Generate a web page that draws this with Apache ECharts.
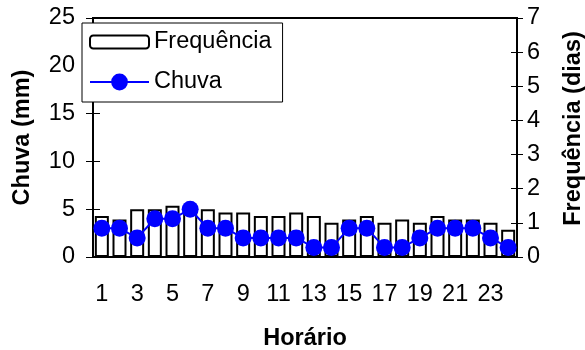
<!DOCTYPE html>
<html><head><meta charset="utf-8">
<script src="https://cdn.jsdelivr.net/npm/echarts@6/dist/echarts.min.js"></script>
<style>html,body{margin:0;padding:0;background:#fff}#c{width:585px;height:350px}</style>
</head><body><div id="c"></div>
<script>
var hours = ['1','2','3','4','5','6','7','8','9','10','11','12','13','14','15','16','17','18','19','20','21','22','23','24'];
var frequencia = [1.2,1.1,1.4,1.4,1.5,1.5,1.4,1.3,1.3,1.2,1.2,1.3,1.2,1.0,1.1,1.2,1.0,1.1,1.0,1.2,1.1,1.1,1.0,0.8];
var chuva = [3,3,2,4,4,5,3,3,2,2,2,2,1,1,3,3,1,1,2,3,3,3,2,1];
var F = 'Liberation Sans, Arial, sans-serif';
var FS = 23.5;
var chart = echarts.init(document.getElementById('c'), null, {renderer:'canvas'});
chart.setOption({
  animation:false,
  backgroundColor:'#fff',
  grid:{left:93,right:68,top:18,bottom:93,containLabel:false,outerBoundsMode:'none',
        show:true,borderColor:'#000',borderWidth:2,backgroundColor:'transparent'},
  legend:[{
    orient:'vertical',left:82,top:23,
    padding:[7,11,48,7],itemWidth:59,itemHeight:13,
    backgroundColor:'#fff',borderColor:'#000',borderWidth:1,
    textStyle:{fontFamily:F,fontSize:FS,color:'#000'},
    data:['Frequência'],z:10
  },{
    orient:'vertical',left:89,top:70,
    padding:0,itemWidth:59,itemHeight:21,
    backgroundColor:'transparent',borderWidth:0,
    textStyle:{fontFamily:F,fontSize:FS,color:'#000'},
    data:['Chuva'],z:11
  }],
  xAxis:{
    type:'category',data:hours,boundaryGap:true,
    name:'Horário',nameLocation:'middle',nameGap:70,
    nameTextStyle:{fontFamily:F,fontSize:FS,fontWeight:'bold',color:'#000'},
    axisLine:{lineStyle:{color:'#000',width:2}},
    axisTick:{interval:0,length:7,lineStyle:{color:'#000',width:1}},
    axisLabel:{interval:1,margin:26,fontFamily:F,fontSize:FS,color:'#000'},
    splitLine:{show:false}
  },
  yAxis:[
    {type:'value',min:0,max:25,interval:5,position:'left',
     name:'Chuva (mm)',nameLocation:'middle',nameGap:58,nameRotate:90,
     nameTextStyle:{fontFamily:F,fontSize:FS,fontWeight:'bold',color:'#000'},
     axisLine:{show:true,lineStyle:{color:'#000',width:2}},
     axisTick:{show:true,length:7,lineStyle:{color:'#000',width:1}},
     axisLabel:{margin:18,fontFamily:F,fontSize:FS,color:'#000'},
     splitLine:{show:false}},
    {type:'value',min:0,max:7,interval:1,position:'right',
     name:'Frequência (dias)',nameLocation:'middle',nameGap:45,nameRotate:90,
     nameTextStyle:{fontFamily:F,fontSize:FS,fontWeight:'bold',color:'#000',padding:[0,0,0,18]},
     axisLine:{show:true,lineStyle:{color:'#000',width:2}},
     axisTick:{show:true,length:6,lineStyle:{color:'#000',width:1}},
     axisLabel:{margin:10,fontFamily:F,fontSize:FS,color:'#000'},
     splitLine:{show:false}},
    {type:'value',min:0,max:25,interval:5,position:'left',
     axisLine:{show:false},axisTick:{show:true,inside:true,length:7,lineStyle:{color:'#000',width:1}},
     axisLabel:{show:false},splitLine:{show:false}},
    {type:'value',min:0,max:7,interval:1,position:'right',
     axisLine:{show:false},axisTick:{show:true,inside:true,length:6,lineStyle:{color:'#000',width:1}},
     axisLabel:{show:false},splitLine:{show:false}}
  ],
  series:[
    {name:'Frequência',type:'bar',yAxisIndex:1,data:frequencia,barWidth:14,
     itemStyle:{color:'#fff',borderColor:'#000',borderWidth:2},z:2},
    {name:'Chuva',type:'line',yAxisIndex:0,data:chuva,symbol:'circle',symbolSize:17,
     showSymbol:true,showAllSymbol:true,
     lineStyle:{color:'#0000ff',width:2},itemStyle:{color:'#0000ff'},z:3}
  ]
});
</script></body></html>
